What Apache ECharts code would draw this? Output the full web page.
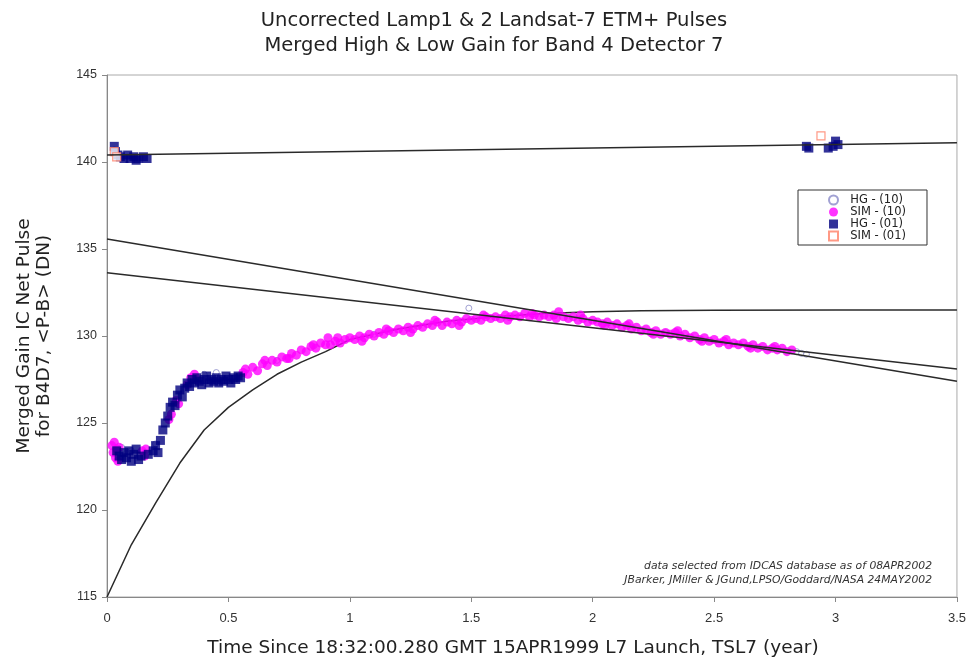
<!DOCTYPE html>
<html>
<head>
<meta charset="utf-8">
<script src="https://cdn.jsdelivr.net/npm/echarts@6/dist/echarts.min.js"></script>
<style>html,body{margin:0;padding:0;background:#fff;}#chart{width:969px;height:663px;}</style>
</head>
<body>
<div id="chart"></div>
<script>
// ---- data ----
const titleLines = ['Uncorrected Lamp1 & 2 Landsat-7 ETM+ Pulses', 'Merged High & Low Gain for Band 4 Detector 7'];
const xAxisTitle = 'Time Since 18:32:00.280 GMT 15APR1999 L7 Launch, TSL7 (year)';
const yAxisTitle = 'Merged Gain IC Net Pulse\nfor B4D7, <P-B> (DN)';
const seriesNames = ['HG - (10)', 'SIM - (10)', 'HG - (01)', 'SIM - (01)'];
const notes = ['data selected from IDCAS database as of 08APR2002', 'JBarker, JMiller & JGund,LPSO/Goddard/NASA 24MAY2002'];

const hg10 = [[0.03,140.7],[0.06,123.6],[0.10,123.4],[0.20,123.8],[0.40,127.8],[0.45,127.9],[0.7,128.6],[1.1,130.1],[1.49,131.6],[2.3,130.2],[2.84,129.1],[2.86,129.0],[2.88,128.95]];

const sim10 = [[0.02,123.7],[0.025,123.3],[0.03,123.9],[0.035,123.0],[0.04,123.5],[0.045,122.8],[0.05,123.6],
[0.145,123.4],[0.155,123.1],[0.16,123.5],[0.255,125.2],[0.265,125.5],[0.285,126.3],[0.295,126.1],[0.33,127.2],[0.345,127.6],[0.36,127.8],[0.37,127.5],
[0.56,127.9],[0.57,128.1],[0.58,127.8],[0.60,128.2],[0.62,128.0],[0.64,128.4],[0.66,128.3],[0.68,128.6],[0.70,128.5],[0.72,128.8],[0.74,128.7],[0.76,129.0],[0.78,128.9],
[0.80,129.2],[0.82,129.1],[0.84,129.4],[0.86,129.3],[0.88,129.6],[0.90,129.5],[0.91,129.9],[0.92,129.5],[0.94,129.7],[0.96,129.6],[0.98,129.8],
[1.00,129.9],[1.02,129.8],[1.04,130.0],[1.06,129.9],[1.08,130.1],[1.10,130.0],[1.12,130.2],[1.14,130.1],[1.16,130.3],[1.18,130.2],
[1.20,130.4],[1.22,130.3],[1.24,130.5],[1.26,130.4],[1.28,130.6],[1.30,130.5],[1.32,130.7],[1.34,130.6],[1.36,130.8],[1.38,130.6],
[1.40,130.8],[1.42,130.7],[1.44,130.9],[1.46,130.8],[1.48,131.0],[1.50,130.9],[1.52,131.0],[1.54,130.9],[1.56,131.1],[1.58,131.0],
[1.60,131.1],[1.62,131.0],[1.64,131.2],[1.66,131.1],[1.68,131.2],[1.70,131.1],[1.72,131.3],[1.74,131.1],[1.76,131.2],[1.78,131.1],
[1.80,131.2],[1.82,131.1],[1.84,131.2],[1.86,131.4],[1.88,131.1],[1.90,131.0],[1.92,131.1],[1.94,130.9],[1.96,131.0],[1.98,130.8],
[2.00,130.9],[2.02,130.8],[2.04,130.7],[2.06,130.8],[2.08,130.6],[2.10,130.7],[2.12,130.5],[2.14,130.6],[2.16,130.4],[2.18,130.5],
[2.20,130.3],[2.22,130.4],[2.24,130.2],[2.26,130.3],[2.28,130.1],[2.30,130.2],[2.32,130.1],[2.34,130.2],[2.36,130.0],[2.38,130.1],
[2.40,129.9],[2.42,130.0],[2.44,129.8],[2.46,129.9],[2.48,129.7],[2.50,129.8],[2.52,129.6],[2.54,129.7],[2.56,129.5],[2.58,129.6],
[2.60,129.5],[2.62,129.6],[2.64,129.4],[2.66,129.5],[2.68,129.3],[2.70,129.4],[2.72,129.2],[2.74,129.3],[2.76,129.2],[2.78,129.3],
[2.80,129.1],[2.82,129.2],
[0.65,128.6],[0.75,128.7],[0.85,129.5],[0.95,129.9],[1.05,129.7],[1.15,130.4],[1.25,130.2],[1.35,130.9],[1.45,130.6],[1.55,131.2],
[1.65,130.9],[1.75,131.3],[1.85,131.0],[1.95,131.2],[2.05,130.6],[2.15,130.7],[2.25,130.1],[2.35,130.3],[2.45,129.7],[2.55,129.8],[2.65,129.3],[2.75,129.4]];

const hg01 = [[0.030,140.9],[0.035,140.6],[0.045,140.4],[0.055,140.3],[0.07,140.2],[0.085,140.4],[0.095,140.2],[0.11,140.3],[0.12,140.1],[0.13,140.2],[0.15,140.3],[0.165,140.2],
[2.88,140.9],[2.89,140.8],[2.97,140.8],[2.99,140.9],[3.0,141.2],[3.01,141.0],
[0.04,123.4],[0.05,123.1],[0.06,122.9],[0.07,123.3],[0.08,123.0],[0.09,123.4],[0.10,122.8],[0.11,123.2],[0.12,123.5],[0.13,122.9],[0.14,123.1],
[0.17,123.2],[0.19,123.4],[0.20,123.7],[0.21,123.3],[0.22,124.0],[0.23,124.6],[0.24,125.0],[0.25,125.4],[0.26,125.9],[0.27,126.2],[0.28,126.0],
[0.29,126.6],[0.30,126.9],[0.31,126.5],[0.32,127.0],[0.33,127.3],[0.34,127.1],[0.35,127.5],[0.36,127.3],[0.37,127.6],[0.38,127.4],[0.39,127.2],
[0.40,127.5],[0.41,127.7],[0.42,127.3],[0.43,127.5],[0.44,127.4],[0.45,127.6],[0.46,127.3],[0.47,127.5],[0.48,127.4],[0.49,127.7],[0.50,127.5],
[0.51,127.3],[0.52,127.6],[0.53,127.5],[0.54,127.7],[0.55,127.6]];

const sim01 = [[0.03,140.6],[0.04,140.3],[2.94,141.5]];

// fitted / trend lines
const topLine = [[0,140.4],[3.5,141.1]];
const lineA = [[0,135.57],[3.5,127.4]];
const lineB = [[0,133.63],[3.5,128.1]];
const curveT = [0,0.1,0.2,0.3,0.4,0.5,0.6,0.7,0.8,0.9,1.0,1.2,1.4,1.6,1.8,2.0,2.2,2.5,3.0,3.5];
const curveV = [115.0,118.0,120.4,122.7,124.6,125.9,126.9,127.8,128.5,129.1,129.8,130.4,130.85,131.1,131.3,131.4,131.45,131.48,131.5,131.5];

const xTicks = ['0','0.5','1','1.5','2','2.5','3','3.5'];
const yTicks = ['115','120','125','130','135','140','145'];

// ---- chart ----
const chart = echarts.init(document.getElementById('chart'), null, {renderer:'canvas'});
const FONT = 'DejaVu Sans';
const lineStyle = {color:'#2a2a2a', width:1.5};
function lineSeries(data, z){
  return {type:'line', data:data, showSymbol:false, symbol:'none', lineStyle:lineStyle, z:z, silent:true, animation:false, legendHoverLink:false};
}
const option = {
  animation:false,
  backgroundColor:'#ffffff',
  title:{text:titleLines.join('\n'), left:489, textAlign:'center', top:3,
    textStyle:{fontFamily:FONT, fontSize:19.5, fontWeight:'normal', color:'#222', lineHeight:25}},
  grid:{left:107, right:12, top:75, bottom:63, show:true, borderColor:'#aaaaaa', borderWidth:1},
  legend:{orient:'vertical', left:798, top:190, data:seriesNames, backgroundColor:'#fff', borderColor:'#333', borderWidth:1,
    padding:[4,21,3,30], itemGap:0, itemWidth:9, itemHeight:9,
    formatter:(n)=>'  ' + n,
    textStyle:{fontFamily:FONT, fontSize:11.5, color:'#222', lineHeight:12}},
  xAxis:{type:'value', min:0, max:3.5, interval:0.5,
    name:xAxisTitle, nameLocation:'middle', nameGap:42,
    nameTextStyle:{fontFamily:FONT, fontSize:18.5, color:'#222', padding:[0,38,0,0]},
    axisLine:{show:true, lineStyle:{color:'#888'}}, axisTick:{show:true, length:5, lineStyle:{color:'#888'}},
    splitLine:{show:false},
    axisLabel:{fontFamily:'Liberation Sans', fontSize:13, color:'#333', margin:15, formatter:(v,i)=>xTicks[Math.round(v/0.5)]}},
  yAxis:{type:'value', min:115, max:145, interval:5,
    name:yAxisTitle, nameLocation:'middle', nameGap:53, nameRotate:90,
    nameTextStyle:{fontFamily:FONT, fontSize:18.5, color:'#222', lineHeight:20},
    axisLine:{show:true, lineStyle:{color:'#888'}}, axisTick:{show:true, length:5, lineStyle:{color:'#888'}},
    splitLine:{show:false},
    axisLabel:{fontFamily:'Liberation Sans', fontSize:12.5, color:'#333', margin:10, formatter:(v)=>yTicks[Math.round((v-115)/5)]}},
  graphic:[
    {type:'text', right:37, top:561, style:{text:notes[0], font:'italic 10.8px "DejaVu Sans"', fill:'#333', textAlign:'right'}},
    {type:'text', right:37, top:575, style:{text:notes[1], font:'italic 10.8px "DejaVu Sans"', fill:'#333', textAlign:'right'}}
  ],
  series:[
    Object.assign(lineSeries(curveT.map((t,i)=>[t,curveV[i]]), 1), {name:'fit'}),
    {name:seriesNames[0], type:'scatter', data:hg10, symbol:'circle', symbolSize:6, z:2,
      itemStyle:{color:'#ffffff', borderColor:'#8a8ac8', borderWidth:1}},
    {name:seriesNames[1], type:'scatter', data:sim10, symbol:'circle', symbolSize:9, z:3,
      itemStyle:{color:'#ff00ff'}},
    {name:seriesNames[2], type:'scatter', data:hg01, symbol:'rect', symbolSize:9, z:4,
      itemStyle:{color:'#000080'}},
    {name:seriesNames[3], type:'scatter', data:sim01, symbol:'rect', symbolSize:8, z:5,
      itemStyle:{color:'#ffffff', borderColor:'#ff7f66', borderWidth:1.2}},
    Object.assign(lineSeries(topLine, 6), {name:'top'}),
    Object.assign(lineSeries(lineA, 6), {name:'A'}),
    Object.assign(lineSeries(lineB, 6), {name:'B'})
  ]
};
chart.setOption(option);
</script>
</body>
</html>
